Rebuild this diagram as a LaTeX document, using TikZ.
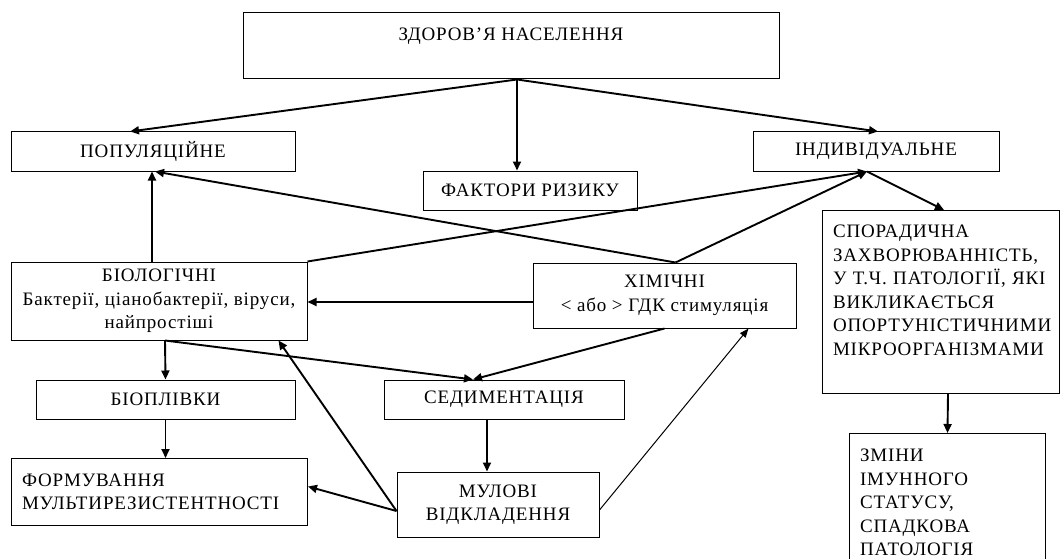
\documentclass[tikz,border=0pt]{standalone}
\usepackage{fontspec}
\setmainfont{Liberation Serif}[LetterSpace=4.5]
\usetikzlibrary{arrows.meta}

\begin{document}
\begin{tikzpicture}[x=1pt,y=-1pt,line join=miter,
  box/.style={draw,line width=1pt,inner sep=0pt,align=center,font=\fontsize{19}{23.5}\selectfont},
  lbox/.style={box,align=left,inner xsep=10.5pt,text width=#1},
  arr/.style={line width=1.9pt,-{Triangle[length=9pt,width=8pt]}},
  thinarr/.style={line width=1pt,-{Triangle[length=9pt,width=7pt]}}]
  \useasboundingbox (0,0) rectangle (1060,559);
  \node[box,minimum width=536pt,minimum height=66pt] (health) at (511,46) {ЗДОРОВ’Я НАСЕЛЕННЯ\\ \mbox{}};
  \node[box,minimum width=284pt,minimum height=39pt] (popul) at (153,151.5) {ПОПУЛЯЦІЙНЕ};
  \node[box,minimum width=214pt,minimum height=39pt] (risk) at (530,190.5) {ФАКТОРИ РИЗИКУ};
  \node[box,minimum width=246pt,minimum height=39pt] (indiv) at (876,151.5) {ІНДИВІДУАЛЬНЕ};
  \node[box,minimum width=296pt,minimum height=78pt] (biol) at (159,301) {БІОЛОГІЧНІ\\Бактерії, ціанобактерії, віруси,\\найпростіші};
  \node[box,minimum width=263pt,minimum height=65pt] (chem) at (664.5,295.5) {ХІМІЧНІ\\< або > ГДК стимуляція};
  \node[lbox=216pt,minimum height=183pt,anchor=north west] (spor) at (822,210) {СПОРАДИЧНА\\ЗАХВОРЮВАННІСТЬ,\\У Т.Ч. ПАТОЛОГІЇ, ЯКІ\\ВИКЛИКАЄТЬСЯ\\ОПОРТУНІСТИЧНИМИ\\МІКРООРГАНІЗМАМИ\\ \mbox{}};
  \node[lbox=175pt,minimum height=138pt,anchor=north west] (immun) at (849,433) {ЗМІНИ\\ІМУННОГО\\СТАТУСУ,\\СПАДКОВА\\ПАТОЛОГІЯ};
  \node[box,minimum width=259pt,minimum height=39pt] (film) at (165.5,399.5) {БІОПЛІВКИ};
  \node[box,minimum width=240pt,minimum height=39pt] (sedim) at (504,399.5) {СЕДИМЕНТАЦІЯ};
  \node[lbox=275pt,minimum height=67pt,anchor=north west] (multi) at (11,458) {ФОРМУВАННЯ\\МУЛЬТИРЕЗИСТЕНТНОСТІ};
  \node[box,minimum width=202pt,minimum height=65pt] (silt) at (498,504.5) {МУЛОВІ\\ВІДКЛАДЕННЯ};

  \draw[arr] ([xshift=6pt]health.south) -- ([xshift=-23pt]popul.north);
  \draw[arr] ([xshift=6pt]health.south) -- ([xshift=-13pt]risk.north);
  \draw[arr] ([xshift=6pt]health.south) -- ([xshift=2pt]indiv.north);
  \draw[arr] ([xshift=-7pt]biol.north) -- ([xshift=-1pt]popul.south);
  \draw[arr] ([xshift=11pt]chem.north) -- ([xshift=2pt]popul.south);
  \draw[arr] (biol.north east) -- ([xshift=-9pt]indiv.south);
  \draw[arr] ([xshift=11pt]chem.north) -- ([xshift=-9pt]indiv.south);
  \draw[arr] ([xshift=-9pt]indiv.south) -- ([xshift=3pt]spor.north);
  \draw[arr] ([yshift=-6.5pt]chem.west) -- ([yshift=-1pt]biol.east);
  \draw[arr] ([xshift=6pt]biol.south) -- (film.north);
  \draw[arr] ([xshift=6pt]biol.south) -- ([xshift=-31pt]sedim.north);
  \draw[arr] (chem.south) -- ([xshift=-31pt]sedim.north);
  \draw[arr] (film.south) -- ([xshift=6pt]multi.north);
  \draw[arr] ([xshift=-17pt]sedim.south) -- ([xshift=-11pt]silt.north);
  \draw[arr] ([yshift=-6.5pt]silt.west) -- ([yshift=5.5pt]multi.east);
  \draw[arr] ([yshift=-6.5pt]silt.west) -- ([xshift=-29pt]biol.south east);
  \draw[thinarr] ([yshift=-5.5pt]silt.east) -- ([xshift=-48pt]chem.south east);
  \draw[arr] ([xshift=7pt]spor.south) -- (immun.north);
\end{tikzpicture}
\end{document}
